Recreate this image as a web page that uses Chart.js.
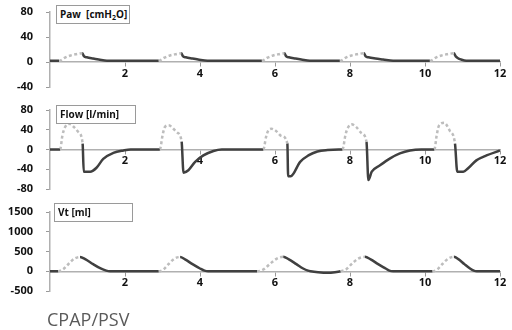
<!DOCTYPE html>
<html>
<head>
<meta charset="utf-8">
<script src="https://cdn.jsdelivr.net/npm/chart.js@4/dist/chart.umd.min.js"></script>
<style>
  body { margin: 0; background: #fff; }
  #wrap { position: relative; width: 512px; height: 330px; font-family: "Open Sans", "Noto Sans", sans-serif; }
  .panel { position: absolute; left: 0; width: 512px; height: 100px; }
  .tag { position: absolute; height: 19px; box-sizing: border-box; border: 1px solid #9a9a9a; background: #fff;
         font-weight: bold; font-size: 10px; line-height: 17px; padding-left: 3px; color: #111; }
  .tag sub { font-size: 7px; vertical-align: -2px; line-height: 0; }
  #caption { position: absolute; left: 47px; top: 307px; font-size: 18px; color: #5a5a5a; }
</style>
</head>
<body>
<div id="wrap">
  <canvas id="paw-chart" class="panel" style="top:0" width="512" height="100"></canvas>
  <canvas id="flow-chart" class="panel" style="top:100px" width="512" height="100"></canvas>
  <canvas id="vt-chart" class="panel" style="top:200px" width="512" height="100"></canvas>
  <div class="tag" style="left:56px;top:5px;width:74px">Paw&nbsp; [cmH<sub>2</sub>O]</div>
  <div class="tag" style="left:56px;top:105px;width:80px">Flow [l/min]</div>
  <div class="tag" style="left:54px;top:203px;width:79px">Vt [ml]</div>
  <div id="caption">CPAP/PSV</div>
</div>
<script>
const timeTicks = [2, 4, 6, 8, 10, 12];

const pawTicks = [-40, 0, 40, 80];
const pawTime = [0, 0.24, 0.4, 0.55, 0.7, 0.86, 0.91, 0.98, 1.15, 1.3, 1.52, 2.9,
  3.05, 3.2, 3.35, 3.5, 3.55, 3.62, 3.8, 3.95, 4.2, 5.65,
  5.8, 5.95, 6.1, 6.25, 6.3, 6.37, 6.55, 6.7, 6.93, 7.73,
  7.89, 8.04, 8.2, 8.37, 8.42, 8.49, 8.68, 8.88, 9.15, 10.13,
  10.29, 10.44, 10.6, 10.77, 10.82, 10.88, 10.96, 11.1, 12];
const pawValue = [2, 2, 7, 10.5, 12.5, 14, 9, 7.5, 5.5, 4, 2, 2,
  7, 10.5, 12.5, 14, 9, 7.5, 5.5, 4, 2, 2,
  7, 10.5, 12.5, 14, 9, 7.5, 5.5, 4, 2, 2,
  7, 10.5, 12.5, 14, 9, 7.5, 5.5, 4, 2, 2,
  7, 10.5, 12.5, 14, 9, 6, 4, 2, 2];
const pawInsp = [[0.24, 0.86], [2.9, 3.5], [5.65, 6.25], [7.73, 8.37], [10.13, 10.77]];

const flowTicks = [-80, -40, 0, 40, 80];
const flowTime = [0, 0.27, 0.33, 0.4, 0.51, 0.63, 0.76, 0.87, 0.9, 1.07, 1.24, 1.42, 1.69, 1.96, 2.15, 2.93,
  3.0, 3.06, 3.16, 3.38, 3.51, 3.56, 3.69, 3.87, 4.09, 4.36, 4.58, 5.69,
  5.76, 5.82, 5.91, 6.02, 6.18, 6.33, 6.35, 6.42, 6.67, 6.89, 7.13, 7.4, 7.7, 7.8,
  7.88, 7.95, 8.04, 8.16, 8.31, 8.44, 8.49, 8.58, 8.8, 9.07, 9.33, 9.6, 9.9, 10.25,
  10.31, 10.37, 10.51, 10.66, 10.8, 10.86, 11.02, 11.15, 11.37, 11.64, 12];
const flowValue = [0, 0, 28, 45, 52, 46, 35, 12, -45, -45, -37, -19, -7, -2, 0, 0,
  28, 45, 49, 35, 16, -47, -42, -25, -12, -3, 0, 0,
  25, 38, 42, 38, 27, 12, -54, -54, -25, -12, -4, -1, 0, 0,
  30, 45, 51, 46, 33, 15, -62, -45, -32, -18, -8, -2, 0, 0,
  28, 48, 54, 38, 12, -45, -45, -38, -22, -12, -2];
const flowInsp = [[0.27, 0.87], [2.93, 3.51], [5.69, 6.33], [7.8, 8.44], [10.25, 10.8]];

const vtTicks = [-500, 0, 500, 1000, 1500];
const vtTime = [0, 0.22, 0.35, 0.5, 0.65, 0.8, 0.95, 1.15, 1.35, 1.5, 1.6, 2.9,
  3.03, 3.17, 3.32, 3.47, 3.6, 3.8, 4.0, 4.12, 4.22, 5.52,
  5.7, 5.87, 6.05, 6.22, 6.37, 6.57, 6.75, 6.88, 6.95, 7.15, 7.4, 7.6, 7.75,
  7.9, 8.05, 8.22, 8.4, 8.55, 8.75, 8.95, 9.05, 9.15, 10.2,
  10.33, 10.47, 10.62, 10.77, 10.9, 11.05, 11.2, 11.3, 11.38, 12];
const vtValue = [0, 0, 50, 190, 320, 360, 300, 180, 70, 15, 0, 0,
  50, 190, 320, 360, 300, 180, 70, 15, 0, 0,
  50, 190, 320, 365, 300, 180, 70, 15, 0, -25, -40, -25, 0,
  50, 190, 320, 365, 300, 180, 70, 15, 0, 0,
  50, 190, 320, 365, 300, 180, 70, 15, 0, 0];
const vtInsp = [[0.22, 0.8], [2.9, 3.47], [5.52, 6.22], [7.75, 8.4], [10.2, 10.77]];

const tickFont = { family: "'Open Sans', 'Noto Sans', sans-serif", size: 11, weight: "bold" };
const expColor = "#404040";
const inspColor = "#bdbdbd";

function isInspiration(windows, segment) {
  const mid = (segment.p0.parsed.x + segment.p1.parsed.x) / 2;
  return windows.some(([start, end]) => mid >= start && mid <= end);
}

function makePanel(canvasId, times, values, inspWindows, yTicks, padTop, padBottom) {
  const canvas = document.getElementById(canvasId);
  const points = times.map((t, index) => ({ x: t, y: values[index] }));

  return new Chart(canvas, {
    type: "line",
    data: {
      datasets: [
        {
          data: points,
          borderColor: expColor,
          borderWidth: 2.5,
          pointRadius: 0,
          cubicInterpolationMode: "monotone",
          segment: {
            borderColor: (ctx) => (isInspiration(inspWindows, ctx) ? inspColor : expColor),
            borderDash: (ctx) => (isInspiration(inspWindows, ctx) ? [3, 2.5] : undefined),
          },
        },
      ],
    },
    options: {
      responsive: false,
      animation: false,
      layout: { padding: { top: padTop, bottom: padBottom, left: 0, right: 12 } },
      plugins: { legend: { display: false }, tooltip: { enabled: false } },
      scales: {
        x: {
          type: "linear",
          min: 0,
          max: 12,
          position: { y: 0 },
          afterBuildTicks: (scale) => {
            scale.ticks = timeTicks.map((value) => ({ value }));
          },
          afterFit: (scale) => {
            scale.height = 0;
            scale.paddingLeft = 0;
            scale.paddingRight = 0;
          },
          grid: { drawOnChartArea: false, drawTicks: true, tickLength: 4, color: "#999" },
          border: { color: "#b0b0b0", width: 1.5 },
          ticks: { font: tickFont, color: "#111", padding: 1, maxRotation: 0, autoSkip: false,
                   callback: (value) => String(value) },
        },
        y: {
          min: yTicks[0],
          max: yTicks[yTicks.length - 1],
          afterBuildTicks: (scale) => {
            scale.ticks = yTicks.map((value) => ({ value }));
          },
          afterFit: (scale) => {
            scale.width = 50;
            scale.paddingTop = 0;
            scale.paddingBottom = 0;
          },
          grid: { drawOnChartArea: false, drawTicks: true, tickLength: 4, color: "#999" },
          border: { color: "#b0b0b0", width: 1.5 },
          ticks: { font: tickFont, color: "#111", padding: 13, callback: (value) => String(value) },
        },
      },
    },
  });
}

makePanel("paw-chart", pawTime, pawValue, pawInsp, pawTicks, 12, 13);
makePanel("flow-chart", flowTime, flowValue, flowInsp, flowTicks, 10, 11);
makePanel("vt-chart", vtTime, vtValue, vtInsp, vtTicks, 12, 9);
</script>
</body>
</html>
